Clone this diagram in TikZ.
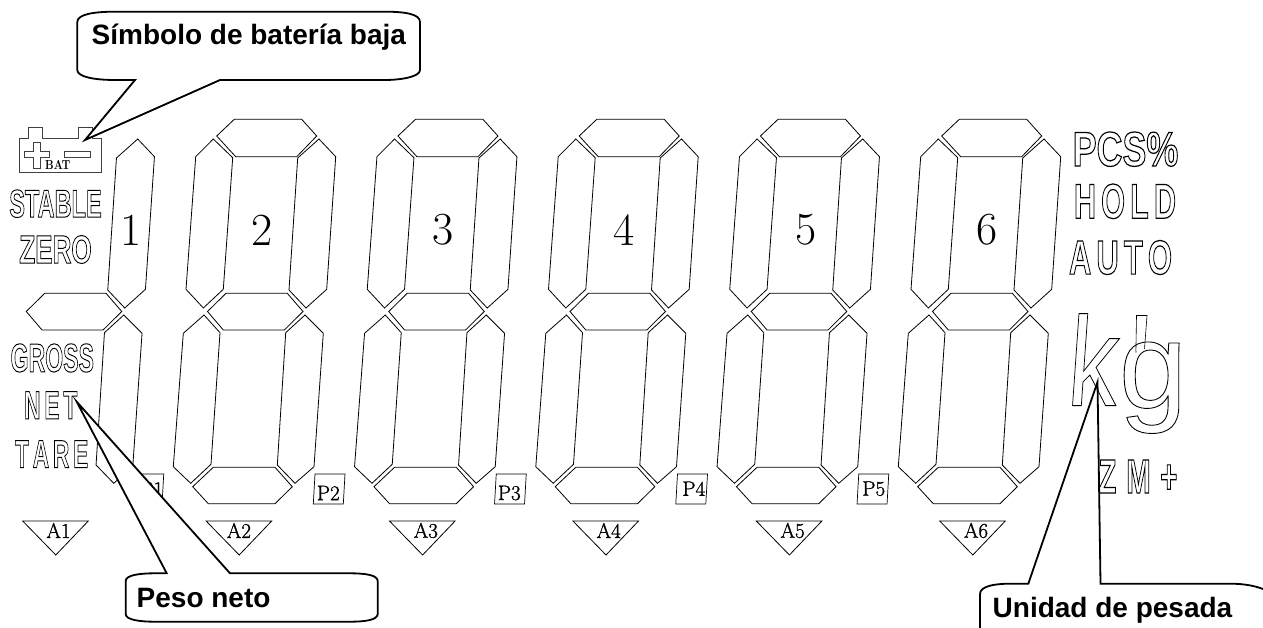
\documentclass[tikz,border=0pt]{standalone}
\usepackage{fontspec}
\usepackage{graphicx}
\newfontfamily\lcdfont{Liberation Sans}
\newcommand{\outl}[4][0.7]{\resizebox{#2pt}{#3pt}{\fontsize{28}{28}\lcdfont\special{pdf:code 1 Tr #1 w}#4\special{pdf:code 0 Tr}}}
\newcommand{\heavy}[1]{\special{pdf:code 2 Tr 0.25 w}#1\special{pdf:code 0 Tr}}
% segments of one digit
\newcommand{\segtop}{(216.7,136) -- (234.3,119.3) -- (301.7,119.3) -- (316.7,136) -- (296.7,156.7) -- (235.7,156.7) -- cycle}
\newcommand{\segul}{(213.3,139) -- (195.7,156.7) -- (186,289.3) -- (203.3,308) -- (223.3,289.3) -- (232.7,157.7) -- cycle}
\newcommand{\segur}{(319,139) -- (335.7,156.7) -- (326.7,289.3) -- (306,308) -- (289,290) -- (297.7,158) -- cycle}
\newcommand{\segmid}{(207.5,311.5) -- (226,293.3) -- (287.3,293.3) -- (303,311.5) -- (284.3,330) -- (223.3,330) -- cycle}
\newcommand{\segll}{(204,315) -- (183.3,333.3) -- (173.3,466.7) -- (190.7,483.3) -- (211,464.3) -- (220,332.7) -- cycle}
\newcommand{\seglr}{(305,315) -- (323.3,333.3) -- (314,466.7) -- (295,483.3) -- (277.3,465) -- (285.7,332.7) -- cycle}
\newcommand{\segbot}{(192.7,486.7) -- (213.3,467.3) -- (275,467.3) -- (292.3,486.7) -- (275,503.7) -- (208.3,503.7) -- cycle}

\begin{document}
\begin{tikzpicture}[x=1pt, y=-1pt,
  seg/.style={draw, line width=0.8pt},
  batt/.style={draw=black!75, line width=0.9pt},
  bubble/.style={draw, fill=white, line width=1.8pt, miter limit=20},
  lcd/.style={inner sep=0pt},
  num/.style={inner sep=0pt, font=\fontsize{46}{46}\selectfont},
  tag/.style={inner sep=0pt, font=\fontsize{21}{21}\selectfont},
  say/.style={inner sep=0pt, anchor=base west, font=\fontsize{28}{28}\lcdfont\bfseries}]
\useasboundingbox (0,0) rectangle (1263,628);

% digits 2 to 6
\foreach \n in {0,...,4} {
  \begin{scope}[xshift=\n*181.25pt]
    \foreach \s in {\segtop,\segul,\segur,\segmid,\segll,\seglr,\segbot} \draw[seg] \s;
  \end{scope}
  \pgfmathtruncatemacro{\m}{\n+2}
  \node[num] (d\m) at (262+\n*181.25,230) {\m};
}
% the narrow first digit
\begin{scope}[xshift=-181.25pt]
  \foreach \s in {\segur,\segmid,\seglr} \draw[seg] \s;
\end{scope}
\node[num] (d1) at (131,230) {1};

% point marks
\foreach \n/\dx/\dy in {1/18/489,2/13.3/493,3/13/493,4/16.3/488.7,5/15/488.7} {
  \begin{scope}[xshift=(\n-2)*181.25pt]
    \draw[seg, line width=0.7pt] (315,474) -- (345,474) -- (343.3,504) -- (313.3,504) -- cycle;
  \end{scope}
  \node[tag] (p\n) at ({315+(\n-2)*181.25+\dx},\dy) {\heavy{P\n}};
}
% arrows under the digits
\foreach \n/\dx in {1/3,2/0,3/3.5,4/3,5/3.5,6/3.5} {
  \begin{scope}[xshift=(\n-1)*183.4pt]
    \draw[seg] (22.7,521) -- (88.3,521) -- (55.8,555) -- cycle;
  \end{scope}
  \node[tag] (a\n) at ({55.5+(\n-1)*183.4+\dx},530.5) {\heavy{A\n}};
}

% battery
\draw[batt] (19.3,138.3) -- (28.3,138.3) -- (28.3,127.3) -- (42.3,127.3) -- (42.3,138.3) -- (78.3,138.3) -- (78.3,127.3) -- (92.3,127.3) -- (92.3,138.3) -- (101,138.3) -- (101,172.3) -- (19.3,172.3) -- cycle;
\draw[batt] (24,151.7) -- (33.3,151.7) -- (33.3,142.3) -- (40,142.3) -- (40,151.7) -- (49.3,151.7) -- (49.3,157.3) -- (40,157.3) -- (40,168.3) -- (33.3,168.3) -- (33.3,157.3) -- (24,157.3) -- cycle;
\draw[batt] (64,151.7) rectangle (90,157.7);
\node[inner sep=0pt, yscale=1.25, font=\fontsize{10.5}{10.5}\selectfont\bfseries] (bat) at (57.8,164.5) {BAT};

% status words
\node[lcd] (stable) at (55.5,203.7) {\outl{92.4}{27.3}{\bfseries STABLE}};
\node[lcd] (zero) at (55.5,249.5) {\outl{72.4}{27.6}{\bfseries ZERO}};
\node[lcd] (gross) at (52.3,358) {\outl{83.3}{28}{\bfseries GROSS}};
\node[lcd] (net) at (50.7,405.3) {\outl{53.3}{27.3}{\bfseries N\,E\,T}};
\node[lcd] (tare) at (51.7,454.2) {\outl{73.3}{27}{\bfseries T\,A\,R\,E}};
\node[lcd] (pcs) at (1125.5,149.2) {\outl{105.6}{34}{\bfseries PCS\%}};
\node[lcd] (hold) at (1125,201.3) {\outl{102}{34.3}{\bfseries H\,O\,L\,D}};
\node[lcd] (auto) at (1120.5,257.5) {\outl{103}{33.7}{\bfseries A\,U\,T\,O}};
\node[lcd] (zm) at (1138,476.5) {\outl{79}{33}{\bfseries Z\,\,M\,\,+}};
\node[lcd, xslant=0.07] (k) at (1094,359.7) {\outl[0.2]{50}{92}{k}};
\node[lcd] (g) at (1153,387.7) {\outl[0.2]{68}{66}{g}};
\draw[seg, line width=0.6pt] (1136,352.5) -- (1135.9,350) -- (1136.5,315.5) -- (1147,315.5) -- (1144.5,349);

% callouts
\draw[bubble] (77.3,22) .. controls (77.3,14) and (95,11.7) .. (115,11.7) -- (385,11.7) .. controls (405,11.7) and (420,14) .. (420,22) -- (420,70) .. controls (420,77) and (400,80) .. (385,80) -- (220,80) -- (85,140) -- (135,80) -- (115,80) .. controls (95,80) and (77.3,77) .. (77.3,70) -- cycle;
\node[say] (low) at (91.5,45) {Símbolo de batería baja};
\draw[bubble] (125.7,581) .. controls (125.7,575) and (140,573.3) .. (155,573.3) -- (166.7,573.3) -- (76.7,401.7) -- (230,573.3) -- (350,573.3) .. controls (365,573.3) and (377.7,575) .. (377.7,581) -- (377.7,614) .. controls (377.7,620) and (365,621.7) .. (350,621.7) -- (155,621.7) .. controls (140,621.7) and (125.7,620) .. (125.7,614) -- cycle;
\node[say] (neto) at (136.5,607.7) {Peso neto};
\draw[bubble] (980,640) -- (980,594) .. controls (980,586) and (995,583.7) .. (1010,583.7) -- (1028.3,583.7) -- (1097.5,382) -- (1100.5,583.7) -- (1230,583.7) .. controls (1245,583.7) and (1255,586) .. (1263,589);
\node[say] (unidad) at (992.5,617) {Unidad de pesada};
\end{tikzpicture}
\end{document}
